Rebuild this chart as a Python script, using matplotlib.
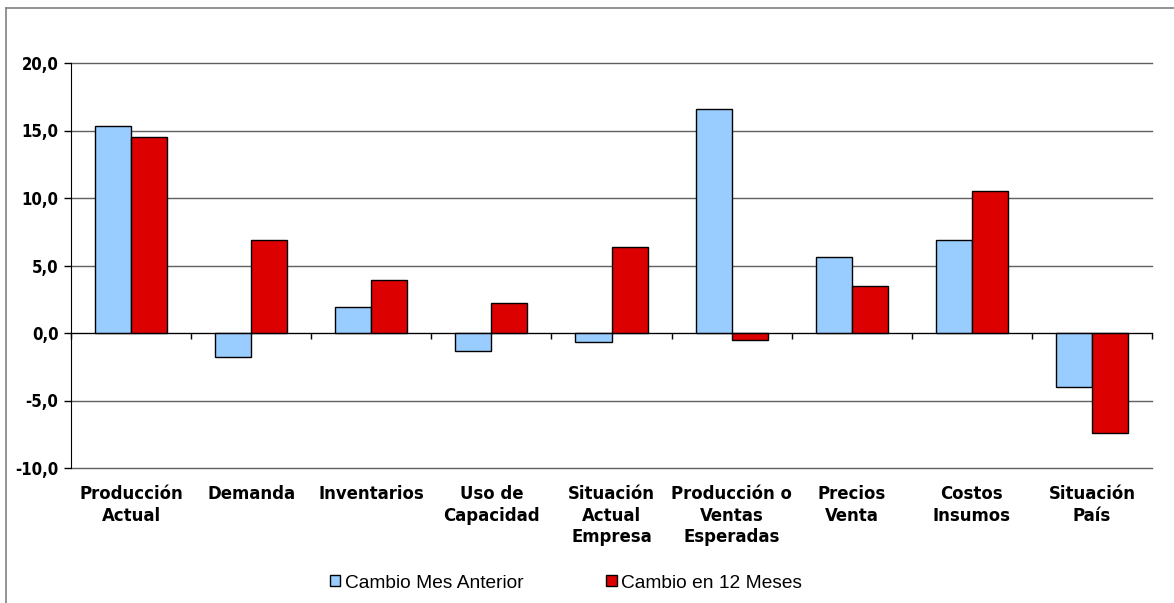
# Bar chart: cambio mes anterior vs cambio en 12 meses
import matplotlib
matplotlib.use('Agg')
import numpy as np
import matplotlib.pyplot as plt
from matplotlib.patches import Patch
from matplotlib.lines import Line2D
from matplotlib import font_manager

categories = ['Producción\nActual', 'Demanda', 'Inventarios', 'Uso de\nCapacidad',
              'Situación\nActual\nEmpresa', 'Producción o\nVentas\nEsperadas',
              'Precios\nVenta', 'Costos\nInsumos', 'Situación\nPaís']
mes_anterior = [15.3, -1.8, 1.9, -1.3, -0.7, 16.6, 5.6, 6.9, -4.0]
doce_meses = [14.5, 6.9, 3.9, 2.2, 6.4, -0.5, 3.5, 10.5, -7.4]
series_names = ['Cambio Mes Anterior', 'Cambio en 12 Meses']
y_ticks = [-10, -5, 0, 5, 10, 15, 20]


def narrow_bold(size):
    """Find a condensed bold face if one is installed"""
    files = [f.fname for f in font_manager.fontManager.ttflist]
    for key in ('LiberationSansNarrow-Bold', 'DejaVuSansCondensed-Bold'):
        for fn in files:
            if key in fn and 'Oblique' not in fn and 'Italic' not in fn:
                return font_manager.FontProperties(fname=fn, size=size)
    return font_manager.FontProperties(family='Liberation Sans', weight='bold',
                                       stretch='condensed', size=size)


W, H = 1174, 603
fig = plt.figure(figsize=(W / 100, H / 100), dpi=100)
ax = fig.add_axes([71 / W, 1 - 468 / H, (1152 - 71) / W, (468 - 63) / H])

x = np.arange(len(categories))
bw = 0.3
ax.bar(x - bw / 2, mes_anterior, bw, color='#99CCFF', edgecolor='black', linewidth=1, zorder=3)
ax.bar(x + bw / 2, doce_meses, bw, color='#DD0000', edgecolor='black', linewidth=1, zorder=3)

ax.set_xlim(-0.5, len(categories) - 0.5)
ax.set_ylim(-10, 20)
ax.set_yticks(y_ticks)
ax.set_yticklabels([f'{v:.1f}'.replace('.', ',') for v in y_ticks],
                   fontproperties=narrow_bold(12))
ax.yaxis.grid(True, color='#606060', linewidth=1, zorder=0)
for gl in ax.get_ygridlines():
    gl.set_clip_on(False)
ax.tick_params(axis='y', direction='out', length=5, width=1, pad=4)

# category axis crosses at zero, ticks between categories
ax.spines['bottom'].set_position(('data', 0))
ax.spines['bottom'].set_zorder(4)
ax.spines['top'].set_visible(False)
ax.spines['right'].set_visible(False)
ax.set_xticks(np.arange(len(categories) + 1) - 0.5)
ax.set_xticklabels([])
ax.tick_params(axis='x', direction='out', length=4, width=1)

for i, lab in enumerate(categories):
    ax.text(i, -0.043, lab, transform=ax.get_xaxis_transform(), ha='center', va='top',
            fontproperties=narrow_bold(13.2), linespacing=1.25)

handles = [Patch(facecolor='#99CCFF', edgecolor='black'),
           Patch(facecolor='#DD0000', edgecolor='black')]
fig.legend(handles, series_names, loc='center', bbox_to_anchor=(566 / W, 1 - 583 / H),
           ncol=2, frameon=False, prop={'family': 'Liberation Sans', 'size': 13.8},
           handlelength=0.55, handleheight=0.55, handletextpad=0.25, columnspacing=4.3)

# outer chart frame (top and left visible)
fig.add_artist(Line2D([6 / W, 1], [1 - 8 / H, 1 - 8 / H], color='#808080', linewidth=1.2))
fig.add_artist(Line2D([6 / W, 6 / W], [0, 1 - 8 / H], color='#808080', linewidth=1.2))

fig.savefig('out.png', dpi=100)
